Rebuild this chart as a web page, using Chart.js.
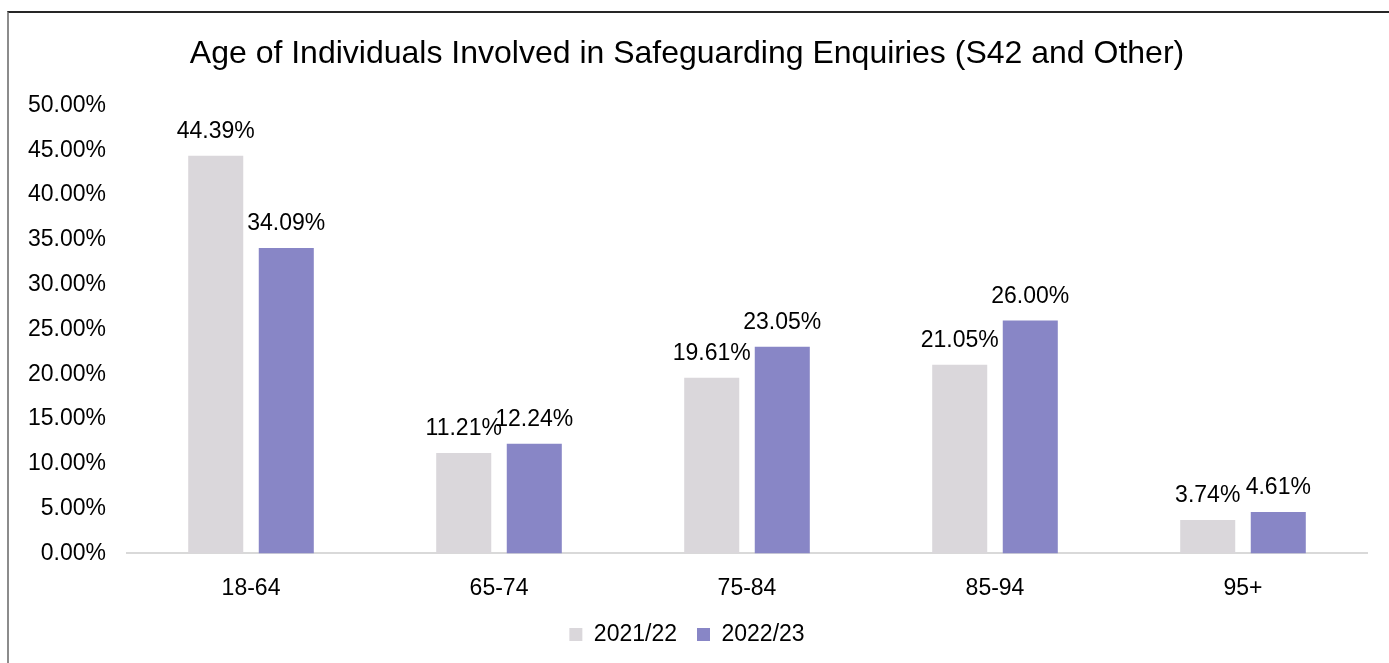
<!DOCTYPE html>
<html>
<head>
<meta charset="utf-8">
<script src="https://cdn.jsdelivr.net/npm/chart.js@4.4.1/dist/chart.umd.min.js"></script>
<style>
  html, body { margin: 0; padding: 0; background: #fff; }
  #wrap { position: relative; width: 1389px; height: 663px; overflow: hidden; }
  #frame { position: absolute; left: 7px; top: 11px; width: 1400px; height: 700px;
           border-top: 2px solid #262626; border-left: 2px solid #8c8c8c; pointer-events: none; }
  canvas { position: absolute; left: 0; top: 0; }
</style>
</head>
<body>
<div id="wrap">
  <canvas id="chart" width="1389" height="663"></canvas>
  <div id="frame"></div>
</div>
<script>
const ageGroups = ['18-64', '65-74', '75-84', '85-94', '95+'];
const values2122 = [44.39, 11.21, 19.61, 21.05, 3.74];
const values2223 = [34.09, 12.24, 23.05, 26.00, 4.61];
const seriesNames = ['2021/22', '2022/23'];
const chartTitle = 'Age of Individuals Involved in Safeguarding Enquiries (S42 and Other)';

const fontFamily = '"Liberation Sans", Arial, sans-serif';

// draws the value above each bar
const barLabels = {
    id: 'barLabels',
    afterDatasetsDraw(chart) {
        const ctx = chart.ctx;
        ctx.save();
        ctx.font = '23px ' + fontFamily;
        ctx.fillStyle = '#000';
        ctx.textAlign = 'center';
        ctx.textBaseline = 'middle';
        chart.data.datasets.forEach((ds, i) => {
            chart.getDatasetMeta(i).data.forEach((bar, j) => {
                ctx.fillText(ds.data[j].toFixed(2) + '%', bar.x, bar.y - 24);
            });
        });
        ctx.restore();
    }
};

const ctx = document.getElementById('chart').getContext('2d');
new Chart(ctx, {
    type: 'bar',
    data: {
        labels: ageGroups,
        datasets: [
            { label: seriesNames[0], data: values2122, backgroundColor: '#DAD7DB' },
            { label: seriesNames[1], data: values2223, backgroundColor: '#8886C6' }
        ]
    },
    options: {
        responsive: false,
        animation: false,
        categoryPercentage: 0.569,
        barPercentage: 0.78,
        layout: { padding: { left: 7, right: 22, top: 20, bottom: 7 } },
        scales: {
            x: {
                grid: { display: false, drawTicks: false },
                border: { display: true, color: '#D9D9D9', width: 2 },
                ticks: { color: '#000', font: { size: 23, family: fontFamily }, padding: 21 },
                afterFit: (scale) => { scale.height -= 20; }
            },
            y: {
                min: 0,
                max: 50,
                grid: { display: false, drawTicks: false },
                border: { display: false },
                ticks: {
                    stepSize: 5,
                    color: '#000',
                    padding: 21,
                    font: { size: 23, family: fontFamily },
                    callback: (v) => v.toFixed(2) + '%'
                }
            }
        },
        plugins: {
            title: {
                display: true,
                text: chartTitle,
                color: '#000',
                font: { size: 32, weight: 'normal', family: fontFamily },
                padding: { top: 15, bottom: 32 }
            },
            legend: {
                position: 'bottom',
                labels: {
                    color: '#000',
                    boxWidth: 13,
                    boxHeight: 13,
                    padding: 20,
                    font: { size: 23, family: fontFamily }
                }
            },
            tooltip: { enabled: false }
        }
    },
    plugins: [barLabels]
});
</script>
</body>
</html>
